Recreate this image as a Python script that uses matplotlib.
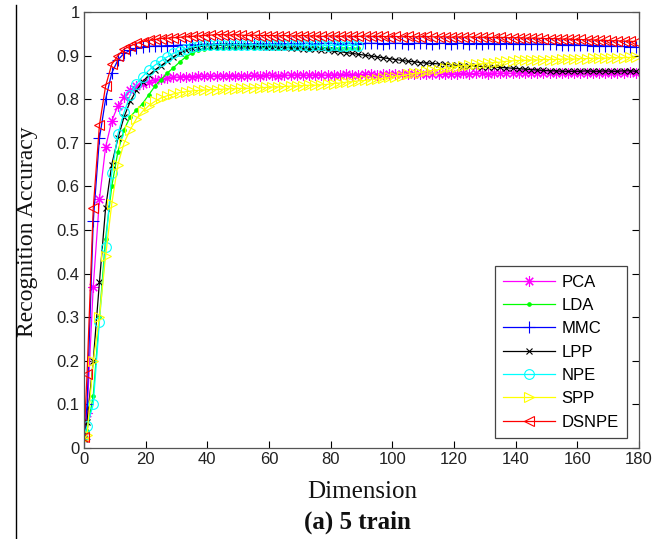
import numpy as np
import matplotlib
matplotlib.use("Agg")
import matplotlib.pyplot as plt
from matplotlib.lines import Line2D
from matplotlib.ticker import FixedLocator, FixedFormatter

# ---------------- data ----------------
dims_full = [0] + list(range(1, 180, 2))      # 91 dimensions
dims_short = dims_full[:46]                   # up to 89

pca = [0.025, 0.08, 0.37, 0.57, 0.69, 0.75, 0.785, 0.805, 0.82, 0.83, 0.836,
       0.840, 0.843, 0.846, 0.848, 0.850, 0.851, 0.852, 0.852, 0.853, 0.853,
       0.853, 0.854, 0.853, 0.854, 0.854, 0.853, 0.854, 0.855, 0.854, 0.855,
       0.855, 0.854, 0.855, 0.855, 0.856, 0.855, 0.855, 0.856, 0.856, 0.855,
       0.856, 0.856, 0.857, 0.856, 0.856, 0.857, 0.857, 0.856, 0.857, 0.857,
       0.857, 0.858, 0.857, 0.857, 0.858, 0.858, 0.857, 0.858, 0.858, 0.858,
       0.858, 0.859, 0.858, 0.859, 0.859, 0.858, 0.859, 0.859, 0.860, 0.859,
       0.859, 0.860, 0.860, 0.859, 0.860, 0.860, 0.860, 0.861, 0.860, 0.860,
       0.861, 0.860, 0.861, 0.861, 0.860, 0.861, 0.861, 0.861, 0.862, 0.861]

lda = [0.02, 0.04, 0.12, 0.30, 0.48, 0.60, 0.68, 0.73, 0.76, 0.775, 0.79,
       0.81, 0.83, 0.845, 0.86, 0.872, 0.885, 0.897, 0.905, 0.912, 0.916,
       0.917, 0.918, 0.918, 0.919, 0.918, 0.919, 0.919, 0.918, 0.919, 0.919,
       0.919, 0.918, 0.919, 0.919, 0.918, 0.919, 0.918, 0.919, 0.918, 0.918,
       0.918, 0.917, 0.918, 0.917, 0.917]

mmc = [0.02, 0.10, 0.52, 0.71, 0.80, 0.86, 0.89, 0.905, 0.912, 0.917, 0.920,
       0.921, 0.922, 0.922, 0.923, 0.923, 0.924, 0.924, 0.925, 0.925, 0.926,
       0.926, 0.927, 0.926, 0.927, 0.927, 0.926, 0.927, 0.927, 0.928, 0.927,
       0.927, 0.928, 0.927, 0.928, 0.927, 0.928, 0.928, 0.927, 0.928, 0.928,
       0.928, 0.927, 0.928, 0.928, 0.927, 0.928, 0.928, 0.928, 0.927, 0.928,
       0.928, 0.928, 0.927, 0.928, 0.928, 0.928, 0.927, 0.928, 0.928, 0.927,
       0.928, 0.928, 0.927, 0.928, 0.927, 0.928, 0.927, 0.927, 0.928, 0.927,
       0.927, 0.927, 0.926, 0.927, 0.926, 0.926, 0.926, 0.925, 0.925, 0.925,
       0.924, 0.924, 0.923, 0.923, 0.922, 0.922, 0.921, 0.921, 0.920, 0.920]

lpp = [0.02, 0.06, 0.20, 0.38, 0.55, 0.65, 0.71, 0.76, 0.795, 0.82, 0.84,
       0.855, 0.867, 0.877, 0.887, 0.897, 0.905, 0.912, 0.917, 0.920, 0.922,
       0.923, 0.923, 0.924, 0.923, 0.923, 0.922, 0.922, 0.921, 0.921, 0.920,
       0.920, 0.919, 0.919, 0.918, 0.917, 0.916, 0.915, 0.914, 0.913, 0.912,
       0.910, 0.909, 0.907, 0.905, 0.903, 0.901, 0.899, 0.897, 0.895, 0.893,
       0.891, 0.889, 0.887, 0.886, 0.884, 0.883, 0.882, 0.881, 0.880, 0.879,
       0.878, 0.877, 0.877, 0.876, 0.875, 0.874, 0.873, 0.873, 0.872, 0.871,
       0.870, 0.869, 0.868, 0.867, 0.866, 0.865, 0.865, 0.864, 0.864, 0.864,
       0.864, 0.865, 0.864, 0.864, 0.865, 0.864, 0.864, 0.865, 0.865, 0.864]

npe = [0.03, 0.05, 0.10, 0.29, 0.46, 0.63, 0.72, 0.77, 0.81, 0.835, 0.852,
       0.866, 0.878, 0.888, 0.897, 0.905, 0.911, 0.916, 0.920, 0.922, 0.924,
       0.924, 0.925, 0.925, 0.924, 0.925, 0.925, 0.924, 0.925, 0.924, 0.924,
       0.925, 0.924, 0.924, 0.925, 0.924, 0.924, 0.923, 0.924, 0.924, 0.923,
       0.924, 0.923, 0.923, 0.924, 0.923]

spp = [0.02, 0.03, 0.20, 0.30, 0.44, 0.56, 0.65, 0.70, 0.73, 0.755, 0.772,
       0.785, 0.795, 0.803, 0.808, 0.812, 0.815, 0.817, 0.819, 0.820, 0.821,
       0.822, 0.822, 0.823, 0.824, 0.824, 0.825, 0.825, 0.826, 0.826, 0.827,
       0.828, 0.828, 0.829, 0.830, 0.830, 0.831, 0.832, 0.832, 0.833, 0.834,
       0.836, 0.837, 0.839, 0.840, 0.842, 0.843, 0.845, 0.846, 0.848, 0.850,
       0.852, 0.854, 0.857, 0.859, 0.861, 0.864, 0.866, 0.868, 0.871, 0.873,
       0.875, 0.877, 0.878, 0.880, 0.881, 0.883, 0.884, 0.885, 0.887, 0.888,
       0.889, 0.889, 0.890, 0.890, 0.891, 0.891, 0.891, 0.892, 0.892, 0.892,
       0.893, 0.893, 0.894, 0.894, 0.894, 0.895, 0.895, 0.895, 0.896, 0.896]

dsnpe = [0.025, 0.17, 0.55, 0.74, 0.83, 0.88, 0.90, 0.915, 0.922, 0.928, 0.932,
         0.935, 0.937, 0.939, 0.940, 0.941, 0.942, 0.943, 0.944, 0.945, 0.946,
         0.947, 0.948, 0.948, 0.947, 0.948, 0.947, 0.946, 0.947, 0.946, 0.946,
         0.946, 0.945, 0.946, 0.945, 0.945, 0.946, 0.945, 0.945, 0.944, 0.945,
         0.945, 0.944, 0.945, 0.944, 0.944, 0.945, 0.944, 0.944, 0.944, 0.943,
         0.944, 0.943, 0.944, 0.943, 0.943, 0.944, 0.943, 0.943, 0.943, 0.942,
         0.943, 0.942, 0.943, 0.942, 0.942, 0.942, 0.941, 0.942, 0.941, 0.941,
         0.941, 0.940, 0.940, 0.940, 0.939, 0.939, 0.939, 0.938, 0.938, 0.937,
         0.937, 0.936, 0.936, 0.935, 0.935, 0.934, 0.934, 0.933, 0.933, 0.932]

labels = ["PCA", "LDA", "MMC", "LPP", "NPE", "SPP", "DSNPE"]
x_ticks = [0, 20, 40, 60, 80, 100, 120, 140, 160, 180]
y_ticks = [0, 0.1, 0.2, 0.3, 0.4, 0.5, 0.6, 0.7, 0.8, 0.9, 1]
y_tick_labels = ["0", "0.1", "0.2", "0.3", "0.4", "0.5", "0.6", "0.7", "0.8", "0.9", "1"]

# ---------------- styles ----------------
series = [
    (dims_full, pca, "#ff00ff", (8, 2, 0), 7.5),
    (dims_short, lda, "#00ff00", ".", 5),
    (dims_full, mmc, "#0000ff", "+", 8),
    (dims_full, lpp, "#000000", "x", 4.5),
    (dims_short, npe, "#00ffff", "o", 7),
    (dims_full, spp, "#ffff00", ">", 7.5),
    (dims_full, dsnpe, "#ff0000", "<", 7.5),
]

W, H = 670, 539
fig = plt.figure(figsize=(W / 100, H / 100), dpi=100)
ax = fig.add_axes([84 / W, 1 - 448 / H, (639 - 84) / W, (448 - 12) / H])

for (xs, ys, col, mk, ms), lab in zip(series, labels):
    ax.plot(xs, ys, color=col, marker=mk, markersize=ms,
            markerfacecolor="none" if mk != "." else col,
            markeredgewidth=0.8, linewidth=0.9, label=lab)

ax.set_xlim(0, 180)
ax.set_ylim(0, 1)
ax.xaxis.set_major_locator(FixedLocator(x_ticks))
ax.yaxis.set_major_locator(FixedLocator(y_ticks))
ax.yaxis.set_major_formatter(FixedFormatter(y_tick_labels))
ax.tick_params(direction="in", top=True, right=True, length=5, width=0.8,
               labelsize=12, pad=3)
for lbl in ax.get_xticklabels() + ax.get_yticklabels():
    lbl.set_fontfamily("Liberation Sans")
    lbl.set_color("#222222")
for sp in ax.spines.values():
    sp.set_color("#555555")
    sp.set_linewidth(0.9)

leg = ax.legend(loc="lower right", bbox_to_anchor=(0.978, 0.023), borderaxespad=0,
                fancybox=False, framealpha=1, edgecolor="#444444",
                prop={"family": "Liberation Sans", "size": 12},
                handlelength=3.1, labelspacing=0.5, borderpad=0.5, handletextpad=0.4)
leg.get_frame().set_linewidth(0.9)

fig.text(28 / W, 1 - 232 / H, "Recognition Accuracy", rotation=90, ha="center",
         va="center", family="Liberation Serif", fontsize=17, color="#111111")
fig.text(362 / W, 1 - 492 / H, "Dimension", ha="center", va="center",
         family="Liberation Serif", fontsize=18, color="#111111")
fig.text(357 / W, 1 - 522 / H, "(a) 5 train", ha="center", va="center",
         family="Liberation Serif", fontsize=18, fontweight="bold", color="#111111")

fig.add_artist(Line2D([16 / W, 16 / W], [0, 0.99], transform=fig.transFigure,
                      color="black", linewidth=1))

fig.savefig("out.png", dpi=100)
